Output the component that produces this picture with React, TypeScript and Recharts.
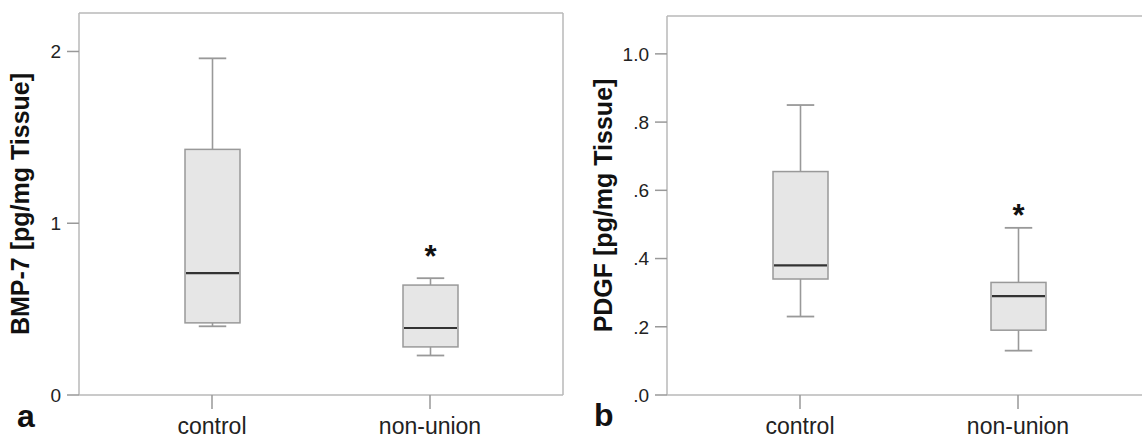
import React from 'react'
import { ComposedChart, Bar, XAxis, YAxis } from 'recharts'

const groups = ['control', 'non-union']

// panel a: BMP-7
const bmpMin = [0.4, 0.23]
const bmpQ1 = [0.42, 0.28]
const bmpMedian = [0.71, 0.39]
const bmpQ3 = [1.43, 0.64]
const bmpMax = [1.96, 0.68]
const bmpStar = [null, 0.83]
const bmpTicks = [0, 1, 2]

// panel b: PDGF
const pdgfMin = [0.23, 0.13]
const pdgfQ1 = [0.34, 0.19]
const pdgfMedian = [0.38, 0.29]
const pdgfQ3 = [0.655, 0.33]
const pdgfMax = [0.85, 0.49]
const pdgfStar = [null, 0.54]
const pdgfTicks = [0, 0.2, 0.4, 0.6, 0.8, 1.0]

const FONT = '"Liberation Sans", Arial, sans-serif'
const FRAME = '#b8b8b8'
const TICK = '#999'

function buildRows(min: number[], q1: number[], med: number[], q3: number[], max: number[], star: (number | null)[]) {
  return groups.map((g, i) => ({
    group: g,
    range: [min[i], max[i]],
    min: min[i],
    q1: q1[i],
    median: med[i],
    q3: q3[i],
    max: max[i],
    star: star[i],
  }))
}

const bmpData = buildRows(bmpMin, bmpQ1, bmpMedian, bmpQ3, bmpMax, bmpStar)
const pdgfData = buildRows(pdgfMin, pdgfQ1, pdgfMedian, pdgfQ3, pdgfMax, pdgfStar)

// draws a box plot from the min..max range bar geometry
function BoxShape(props: any) {
  const { x, y, width, height, payload } = props
  const top = Math.min(y, y + height)
  const bottom = Math.max(y, y + height)
  const { min, max, q1, q3, median, star } = payload
  const pix = (v: number) => bottom - ((v - min) / (max - min)) * (bottom - top)
  const cx = x + width / 2
  const cap = width / 4
  return (
    <g>
      <line x1={cx} x2={cx} y1={pix(max)} y2={pix(q3)} stroke={TICK} strokeWidth={1.6} />
      <line x1={cx} x2={cx} y1={pix(q1)} y2={pix(min)} stroke={TICK} strokeWidth={1.6} />
      <line x1={cx - cap} x2={cx + cap} y1={pix(max)} y2={pix(max)} stroke={TICK} strokeWidth={1.8} />
      <line x1={cx - cap} x2={cx + cap} y1={pix(min)} y2={pix(min)} stroke={TICK} strokeWidth={1.8} />
      <rect x={x} y={pix(q3)} width={width} height={pix(q1) - pix(q3)} fill="#e6e6e6" stroke={TICK} strokeWidth={1.5} />
      <line x1={x + 1} x2={x + width - 1} y1={pix(median)} y2={pix(median)} stroke="#333" strokeWidth={2.2} />
      {star != null && (
        <text x={cx} y={pix(star) + 15} textAnchor="middle" fontSize={31} fontWeight="bold" fontFamily={FONT} fill="#111">
          *
        </text>
      )}
    </g>
  )
}

interface PanelProps {
  data: any[]
  ticks: number[]
  domainMax: number
  title: string
  yWidth: number
  width: number
  top: number
  labelOffset: number
  fmt: (v: number) => string
}

function BoxPanel({ data, ticks, domainMax, title, yWidth, width, top, labelOffset, fmt }: PanelProps) {
  return (
    <ComposedChart width={width} height={439} data={data} margin={{ top: top - 1, right: 0, bottom: 0, left: 0 }}>
      <XAxis
        dataKey="group"
        height={44}
        padding={{ left: 24, right: 24 }}
        tickSize={14}
        tickMargin={9}
        axisLine={{ stroke: FRAME, strokeWidth: 1.5 }}
        tickLine={{ stroke: TICK, strokeWidth: 1.5 }}
        tick={{ fontSize: 23, fill: '#222', fontFamily: FONT }}
      />
      <XAxis
        xAxisId="t"
        dataKey="group"
        orientation="top"
        height={1}
        padding={{ left: 24, right: 24 }}
        tick={false}
        tickLine={false}
        axisLine={{ stroke: FRAME, strokeWidth: 1.5 }}
      />
      <YAxis
        domain={[0, domainMax]}
        ticks={ticks}
        width={yWidth}
        tickSize={12}
        tickMargin={6}
        tickFormatter={fmt}
        allowDataOverflow
        axisLine={{ stroke: FRAME, strokeWidth: 1.5 }}
        tickLine={{ stroke: TICK, strokeWidth: 1.5 }}
        tick={{ fontSize: 19, fill: '#222', fontFamily: FONT }}
        label={{
          value: title,
          angle: -90,
          position: 'insideLeft',
          offset: labelOffset,
          style: { textAnchor: 'middle', fontSize: 25, fontWeight: 'bold', fill: '#111', fontFamily: FONT },
        }}
      />
      <YAxis
        yAxisId="r"
        orientation="right"
        domain={[0, domainMax]}
        width={1}
        tick={false}
        tickLine={false}
        axisLine={{ stroke: FRAME, strokeWidth: 1.5 }}
      />
      <Bar dataKey="range" barSize={55} shape={BoxShape} isAnimationActive={false} />
    </ComposedChart>
  )
}

export default function App() {
  return (
    <div style={{ position: 'absolute', left: 0, top: 0, width: 1142, height: 439, overflow: 'hidden', background: '#fff' }}>
      <div style={{ position: 'absolute', left: 0, top: 0 }}>
        <BoxPanel
          data={bmpData}
          ticks={bmpTicks}
          domainMax={2.224}
          title="BMP-7 [pg/mg Tissue]"
          yWidth={79}
          width={564}
          top={13}
          labelOffset={20}
          fmt={(v) => String(v)}
        />
      </div>
      <div style={{ position: 'absolute', left: 570, top: 0 }}>
        <BoxPanel
          data={pdgfData}
          ticks={pdgfTicks}
          domainMax={1.111}
          title="PDGF [pg/mg Tissue]"
          yWidth={97}
          width={582}
          top={16}
          labelOffset={33}
          fmt={(v) => (v >= 1 ? v.toFixed(1) : v.toFixed(1).replace(/^0/, ''))}
        />
      </div>
      <svg width={1142} height={439} style={{ position: 'absolute', left: 0, top: 0, pointerEvents: 'none' }}>
        <text x={17} y={427} fontSize={32} fontWeight="bold" fontFamily={FONT} fill="#111">a</text>
        <text x={594} y={426} fontSize={32} fontWeight="bold" fontFamily={FONT} fill="#111">b</text>
      </svg>
    </div>
  )
}
